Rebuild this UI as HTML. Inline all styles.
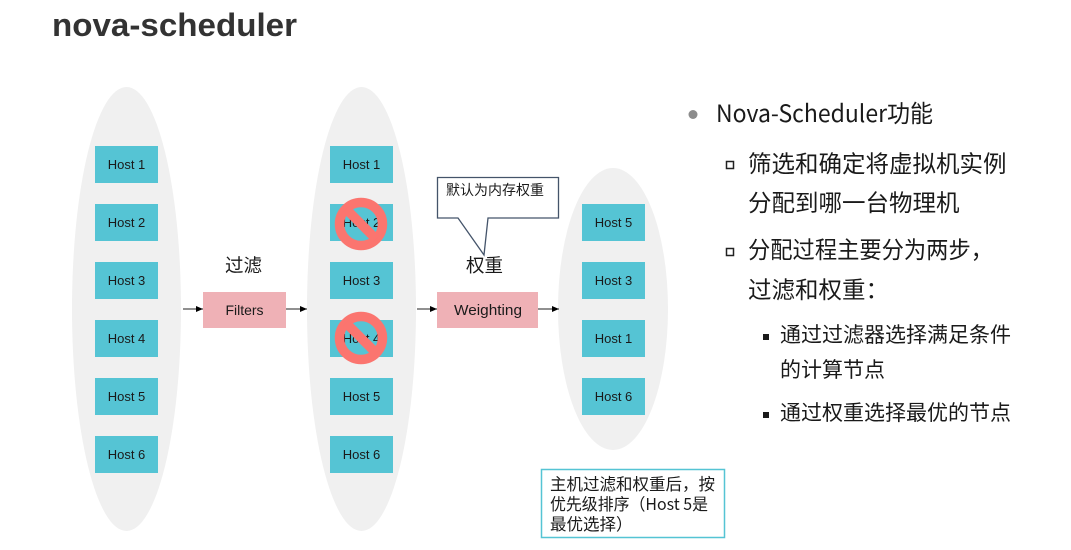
<!DOCTYPE html>
<html><head><meta charset="utf-8"><style>
html,body{margin:0;padding:0;background:#fff}
svg{display:block}
text{font-family:"Liberation Sans","Noto Sans CJK SC",sans-serif;fill:#1a1a1a}
.h{font-size:13px;text-anchor:middle}
.z{font-family:"Noto Sans CJK SC","Liberation Sans",sans-serif}
</style></head><body>
<svg width="1071" height="550" viewBox="0 0 1071 550" xmlns="http://www.w3.org/2000/svg">
<defs><marker id="a" markerWidth="7" markerHeight="6" refX="7" refY="3" orient="auto" markerUnits="userSpaceOnUse"><path d="M0 0L7 3L0 6Z" fill="#000"/></marker></defs>
<rect width="1071" height="550" fill="#fff"/>
<text x="52" y="36" font-size="32" font-weight="700" textLength="245" lengthAdjust="spacingAndGlyphs" style="fill:#333">nova-scheduler</text>

<ellipse cx="126.500" cy="309" rx="54.500" ry="222" fill="#f0f0f0"/>
<ellipse cx="361.500" cy="309" rx="54.500" ry="222" fill="#f0f0f0"/>
<ellipse cx="613" cy="309" rx="55" ry="141" fill="#f0f0f0"/>

<g fill="#55c4d4">
<rect x="95" y="146" width="63" height="37"/><rect x="95" y="204" width="63" height="37"/><rect x="95" y="262" width="63" height="37"/><rect x="95" y="320" width="63" height="37"/><rect x="95" y="378" width="63" height="37"/><rect x="95" y="436" width="63" height="37"/>
<rect x="330" y="146" width="63" height="37"/><rect x="330" y="204" width="63" height="37"/><rect x="330" y="262" width="63" height="37"/><rect x="330" y="320" width="63" height="37"/><rect x="330" y="378" width="63" height="37"/><rect x="330" y="436" width="63" height="37"/>
<rect x="582" y="204" width="63" height="37"/><rect x="582" y="262" width="63" height="37"/><rect x="582" y="320" width="63" height="37"/><rect x="582" y="378" width="63" height="37"/>
</g>
<g>
<text class="h" x="126.500" y="169">Host 1</text><text class="h" x="126.500" y="227">Host 2</text><text class="h" x="126.500" y="285">Host 3</text><text class="h" x="126.500" y="343">Host 4</text><text class="h" x="126.500" y="401">Host 5</text><text class="h" x="126.500" y="459">Host 6</text>
<text class="h" x="361.500" y="169">Host 1</text><text class="h" x="361.500" y="227">Host 2</text><text class="h" x="361.500" y="285">Host 3</text><text class="h" x="361.500" y="343">Host 4</text><text class="h" x="361.500" y="401">Host 5</text><text class="h" x="361.500" y="459">Host 6</text>
<text class="h" x="613.500" y="227">Host 5</text><text class="h" x="613.500" y="285">Host 3</text><text class="h" x="613.500" y="343">Host 1</text><text class="h" x="613.500" y="401">Host 6</text>
</g>

<g fill="none" stroke="#fb756f" stroke-width="9.500">
<circle cx="361" cy="224" r="21.500"/><line x1="346" y1="209" x2="376" y2="239"/>
<circle cx="361" cy="338" r="21.500"/><line x1="346" y1="323" x2="376" y2="353"/>
</g>

<rect x="203" y="292" width="83" height="36" fill="#efb1b6"/>
<rect x="437" y="292" width="101" height="36" fill="#efb1b6"/>
<text x="244.500" y="315" font-size="14" text-anchor="middle">Filters</text>
<text x="488" y="315" font-size="15" text-anchor="middle" textLength="68" lengthAdjust="spacingAndGlyphs">Weighting</text>
<text class="z" x="225" y="272" font-size="18.500">过滤</text>
<text class="z" x="466" y="272" font-size="18.500">权重</text>

<g stroke="#222" stroke-width="1" fill="none">
<line x1="183" y1="309" x2="203" y2="309" marker-end="url(#a)"/>
<line x1="286" y1="309" x2="307" y2="309" marker-end="url(#a)"/>
<line x1="417" y1="309" x2="437" y2="309" marker-end="url(#a)"/>
<line x1="538" y1="309" x2="559" y2="309" marker-end="url(#a)"/>
</g>

<path d="M437.500 177.500H558.500V218H488L484 255L458 218H437.500Z" fill="#fff" stroke="#44546a" stroke-width="1.300"/>
<text class="z" x="446" y="195" font-size="14">默认为内存权重</text>

<rect x="541.500" y="469.500" width="183" height="68" fill="#fff" stroke="#55c4d4" stroke-width="1.500"/>
<text class="z" x="550" y="490" font-size="16.500">主机过滤和权重后，按</text>
<text class="z" x="550" y="510" font-size="16.500" textLength="158" lengthAdjust="spacingAndGlyphs">优先级排序（Host 5是</text>
<text class="z" x="550" y="530" font-size="16.500">最优选择）</text>

<circle cx="693" cy="114.500" r="4.500" fill="#8c8c8c"/>
<text x="716" y="122" font-size="24" class="z" textLength="217" lengthAdjust="spacingAndGlyphs">Nova-Scheduler功能</text>
<rect x="726.500" y="161.500" width="7" height="7" fill="none" stroke="#222" stroke-width="1.500"/>
<text class="z" x="748" y="172" font-size="23.500">筛选和确定将虚拟机实例</text>
<text class="z" x="748" y="211" font-size="23.500">分配到哪一台物理机</text>
<rect x="726.500" y="248.500" width="7" height="7" fill="none" stroke="#222" stroke-width="1.500"/>
<text class="z" x="748" y="258" font-size="23.500" textLength="245" lengthAdjust="spacingAndGlyphs">分配过程主要分为两步，</text>
<text class="z" x="748" y="298" font-size="23.500">过滤和权重：</text>
<rect x="763" y="334" width="6" height="6" fill="#1a1a1a"/>
<text class="z" x="780" y="342" font-size="21">通过过滤器选择满足条件</text>
<text class="z" x="780" y="377" font-size="21">的计算节点</text>
<rect x="763" y="412" width="6" height="6" fill="#1a1a1a"/>
<text class="z" x="780" y="420" font-size="21">通过权重选择最优的节点</text>
</svg>
</body></html>
